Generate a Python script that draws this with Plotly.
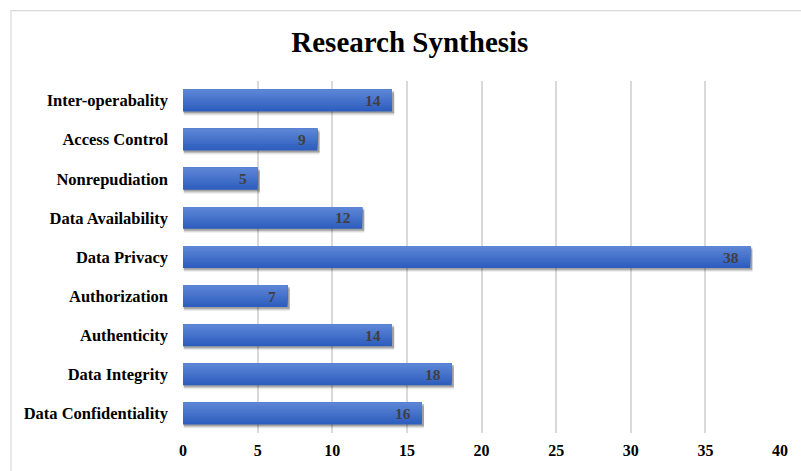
import plotly.graph_objects as go

# Categories listed bottom-to-top as they appear on the y axis
categories = [
    "Data Confidentiality",
    "Data Integrity",
    "Authenticity",
    "Authorization",
    "Data Privacy",
    "Data Availability",
    "Nonrepudiation",
    "Access Control",
    "Inter-operabality",
]
counts = [16, 18, 14, 7, 38, 12, 5, 9, 14]
x_ticks = [0, 5, 10, 15, 20, 25, 30, 35, 40]

FONT = "Liberation Serif, Times New Roman, serif"
BAR_W = 0.56
N_STRIPS = 10
TOP_RGB = (92, 133, 214)
BOT_RGB = (46, 94, 190)

fig = go.Figure()

# soft drop shadow under each bar
for dy, alpha in [(-0.10, 0.08), (-0.07, 0.14), (-0.04, 0.2)]:
    fig.add_trace(go.Bar(
        y=categories, x=[v + 0.1 for v in counts], base=0.05,
        orientation="h", width=BAR_W, offset=-BAR_W / 2 + dy,
        marker=dict(color=f"rgba(0,0,0,{alpha})", line=dict(width=0)),
        hoverinfo="skip", showlegend=False,
    ))

# vertical gradient: each lighter layer covers the upper part of the darker one
h = BAR_W / N_STRIPS
for i in range(N_STRIPS):
    t = i / (N_STRIPS - 1)
    rgb = tuple(round(b + (a - b) * t) for a, b in zip(TOP_RGB, BOT_RGB))
    fig.add_trace(go.Bar(
        y=categories, x=counts, orientation="h",
        width=BAR_W - i * h, offset=-BAR_W / 2 + i * h,
        marker=dict(color="rgb(%d,%d,%d)" % rgb, line=dict(width=0)),
        hoverinfo="skip", showlegend=False,
    ))

# value labels placed just inside the end of each bar
annotations = [
    dict(
        x=v, y=c, xref="x", yref="y", text=f"<b>{v}</b>", showarrow=False,
        xanchor="right", yanchor="middle", xshift=-9, yshift=0,
        font=dict(family=FONT, size=15.5, color="#404040"),
    )
    for c, v in zip(categories, counts)
]

fig.update_layout(
    width=801, height=471,
    margin=dict(l=183, r=21, t=81, b=35),
    paper_bgcolor="white", plot_bgcolor="white",
    barmode="overlay",
    title=dict(
        text="<b>Research Synthesis</b>", x=0.38, xref="paper", xanchor="center",
        y=1 - 42 / 471, yref="container", yanchor="middle",
        font=dict(family=FONT, size=29, color="black"),
    ),
    xaxis=dict(
        range=[0, 40], tickvals=x_ticks, showgrid=True, gridcolor="#d9d9d9",
        gridwidth=1.5, zeroline=False, showline=False,
        tickfont=dict(family=FONT, size=16, color="black", weight="bold"),
        ticklabelstandoff=6,
    ),
    yaxis=dict(
        categoryorder="array", categoryarray=categories,
        showgrid=False, zeroline=False, showline=False,
        tickfont=dict(family=FONT, size=16.5, color="black", weight="bold"),
        ticklabelstandoff=14,
    ),
    annotations=annotations,
    shapes=[dict(
        type="rect", xref="paper", yref="paper",
        x0=(11 - 183) / 597, x1=1.2, y0=-0.3, y1=1 + (81 - 10) / 355,
        line=dict(color="#d9d9d9", width=1.2), fillcolor="rgba(0,0,0,0)",
        layer="below",
    )],
)

fig.write_html("out.html")
